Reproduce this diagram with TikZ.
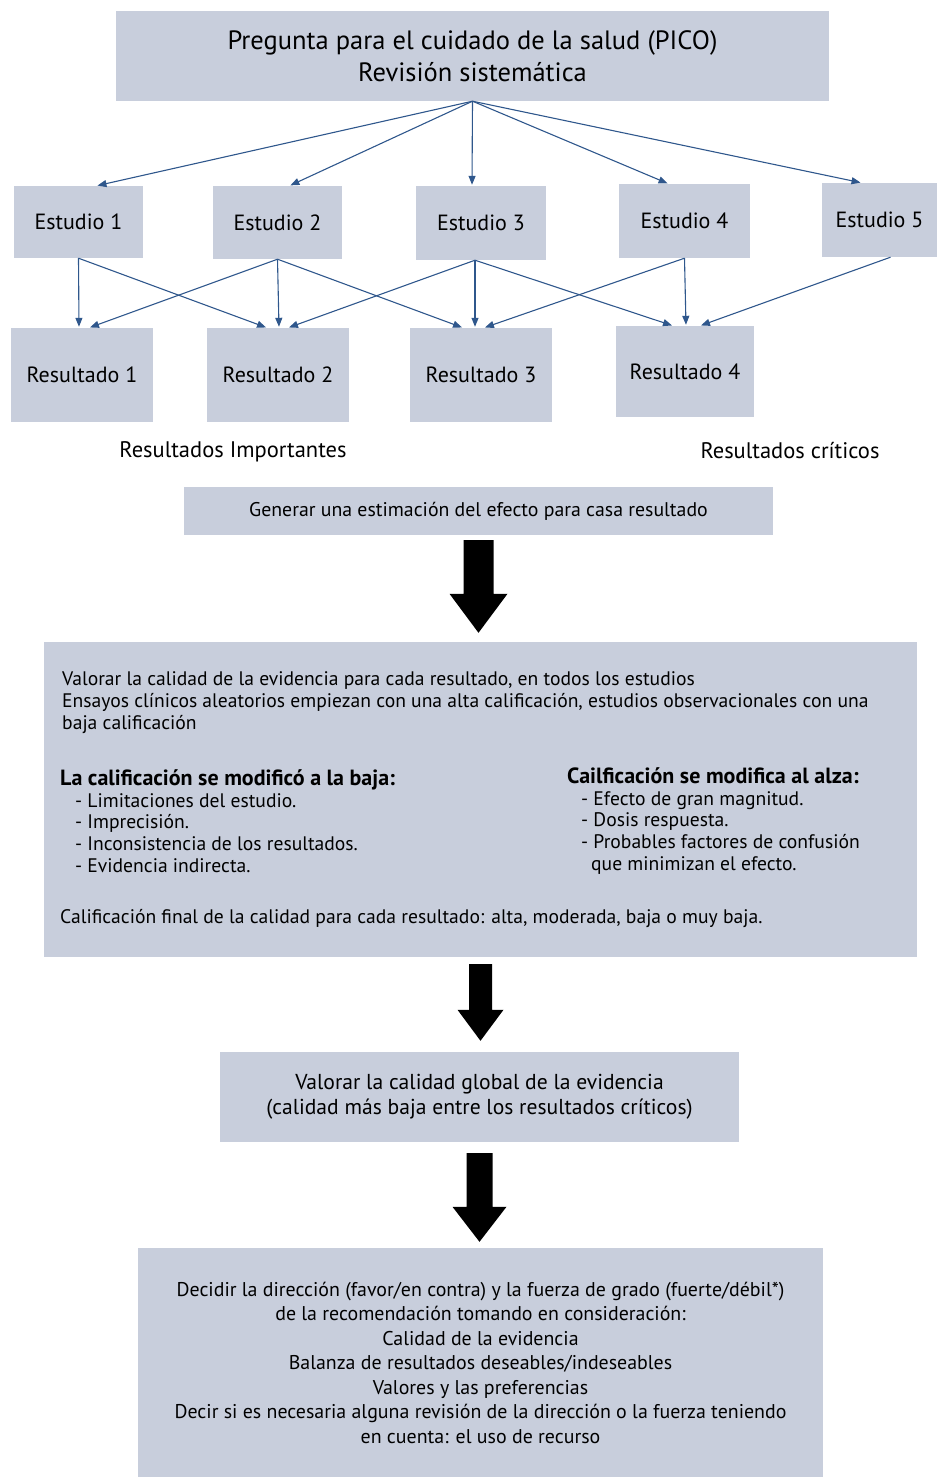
\documentclass[tikz,border=0pt]{standalone}
\usepackage{fontspec}
\setmainfont{PT Sans}
\usetikzlibrary{arrows.meta,calc}
\definecolor{boxgrey}{RGB}{200,206,220}
\definecolor{linkblue}{RGB}{47,87,140}
\newcommand{\fsz}[2]{\fontsize{#1}{#2}\selectfont}
% fat black arrow: top, tip, shaft half width, head half width, head length
\newcommand{\fatarrow}[5]{\fill[black] let \p1=(#1), \p2=(#2) in (\x1-#3,\y1) -- (\x1+#3,\y1) -- (\x1+#3,\y2+#5) -- (\x1+#4,\y2+#5) -- (\x1,\y2) -- (\x1-#4,\y2+#5) -- (\x1-#3,\y2+#5) -- cycle;}
\newcommand{\hdr}[1]{{\fontsize{22}{21.75}\selectfont\bfseries #1}}
\tikzset{
  gbox/.style={fill=boxgrey, inner sep=0pt, align=center},
  link/.style={draw=linkblue, line width=1.1pt, -{Triangle[width=7pt,length=9pt]}, shorten >=1pt},
}

\begin{document}
\begin{tikzpicture}[x=1pt, y=-1pt]
	%%%%% START %%%%%
	\useasboundingbox (0,0) rectangle (937,1477);

	\node[gbox, minimum width=713pt, minimum height=90pt, font=\fsz{26.5}{32}] (pico) at (472.5,56) {Pregunta para el cuidado de la salud (PICO)\\Revisión sistemática};

	% estudios
	\node[gbox, minimum width=129pt, minimum height=72pt, font=\fsz{22}{24}] (e1) at (78.5,222) {Estudio 1};
	\node[gbox, minimum width=129pt, minimum height=73pt, font=\fsz{22}{24}] (e2) at (277.5,222.5) {Estudio 2};
	\node[gbox, minimum width=130pt, minimum height=74pt, font=\fsz{22}{24}] (e3) at (481,223) {Estudio 3};
	\node[gbox, minimum width=131pt, minimum height=74pt, font=\fsz{22}{24}] (e4) at (684.5,221) {Estudio 4};
	\node[gbox, minimum width=115pt, minimum height=74pt, font=\fsz{22}{24}] (e5) at (879.5,220) {Estudio 5};

	% resultados
	\node[gbox, minimum width=142pt, minimum height=94pt, font=\fsz{22}{24}] (r1) at (82,375) {Resultado 1};
	\node[gbox, minimum width=142pt, minimum height=94pt, font=\fsz{22}{24}] (r2) at (278,375) {Resultado 2};
	\node[gbox, minimum width=142pt, minimum height=94pt, font=\fsz{22}{24}] (r3) at (481,375) {Resultado 3};
	\node[gbox, minimum width=138pt, minimum height=91pt, font=\fsz{22}{24}] (r4) at (685,371.5) {Resultado 4};

	\node[font=\fsz{22.5}{24}] (importantes) at (233,452) {Resultados Importantes};
	\node[font=\fsz{22.5}{24}] (criticos) at (790,451) {Resultados críticos};

	\draw[link] (pico.south) -- ([xshift=18pt]e1.north);
	\draw[link] (pico.south) -- ([xshift=12pt]e2.north);
	\draw[link] (pico.south) -- ([xshift=-9pt]e3.north);
	\draw[link] (pico.south) -- ([xshift=-16pt]e4.north);
	\draw[link] (pico.south) -- ([xshift=-18pt]e5.north);

	\draw[link] (e1.south) -- ([xshift=-3pt]r1.north);
	\draw[link] (e1.south) -- ([xshift=-11pt]r2.north);
	\draw[link] (e2.south) -- ([xshift=7pt]r1.north);
	\draw[link] (e2.south) -- ([xshift=1pt]r2.north);
	\draw[link] (e2.south) -- ([xshift=-18pt]r3.north);
	\draw[link] ([xshift=-6pt]e3.south) -- ([xshift=10pt]r2.north);
	\draw[link] ([xshift=-6pt]e3.south) -- ([xshift=-6pt]r3.north);
	\draw[link] ([xshift=-6pt]e3.south) -- ([xshift=-12pt]r4.north);
	\draw[link] (e4.south) -- ([xshift=3pt]r3.north);
	\draw[link] (e4.south) -- ([xshift=1pt]r4.north);
	\draw[link] ([xshift=11pt]e5.south) -- ([xshift=15pt]r4.north);

	\node[gbox, minimum width=589pt, minimum height=48pt, font=\fsz{19.8}{22}] (gen) at (478.5,511) {Generar una estimación del efecto para casa resultado};

	% calidad por resultado
	\node[gbox, minimum width=873pt, minimum height=315pt] (mid) at (480.5,799.5) {};
	\node[anchor=west, align=left, inner sep=0pt, font=\fsz{19.6}{22}] (valorar) at (62,703) {Valorar la calidad de la evidencia para cada resultado, en todos los estudios\\Ensayos clínicos aleatorios empiezan con una alta calificación, estudios observacionales con una\\baja calificación};
	\node[anchor=west, align=left, inner sep=0pt, font=\fsz{19.6}{21.75}] (baja) at (60,821) {\hdr{La calificación se modificó a la baja:}\\\hspace*{15pt}- Limitaciones del estudio.\\\hspace*{15pt}- Imprecisión.\\\hspace*{15pt}- Inconsistencia de los resultados.\\\hspace*{15pt}- Evidencia indirecta.};
	\node[anchor=west, align=left, inner sep=0pt, font=\fsz{19.6}{21.75}] (alza) at (567,821) {\hdr{Cailficación se modifica al alza:}\\\hspace*{14pt}- Efecto de gran magnitud.\\\hspace*{14pt}- Dosis respuesta.\\\hspace*{14pt}- Probables factores de confusión\\\hspace*{24pt}que minimizan el efecto.};
	\node[anchor=west, inner sep=0pt, font=\fsz{19.6}{22}] (final) at (60,919) {Calificación final de la calidad para cada resultado: alta, moderada, baja o muy baja.};

	\node[gbox, minimum width=519pt, minimum height=90pt, font=\fsz{21.6}{25}] (global) at (479.5,1097) {Valorar la calidad global de la evidencia\\(calidad más baja entre los resultados críticos)};

	\node[gbox, minimum width=685pt, minimum height=229pt, font=\fsz{19.9}{24.5}] (decidir) at (480.5,1362.5) {Decidir la dirección (favor/en contra) y la fuerza de grado (fuerte/débil*)\\de la recomendación tomando en consideración:\\Calidad de la evidencia\\Balanza de resultados deseables/indeseables\\Valores y las preferencias\\Decir si es necesaria alguna revisión de la dirección o la fuerza teniendo\\en cuenta: el uso de recurso};

	% big arrows
	\coordinate (a1top) at ($(gen.south)+(0,5)$);
	\coordinate (a1tip) at ($(mid.north)+(0,-9)$);
	\coordinate (a2top) at ($(mid.south)+(0,7)$);
	\coordinate (a2tip) at ($(global.north)+(0,-11)$);
	\coordinate (a3top) at ($(global.south)+(0,11)$);
	\coordinate (a3tip) at ($(decidir.north)+(0,-6)$);
	\fatarrow{a1top}{a1tip}{15}{29}{39}
	\fatarrow{a2top}{a2tip}{11.5}{23}{31}
	\fatarrow{a3top}{a3tip}{13}{27}{35}
	%%%%% END %%%%%
\end{tikzpicture}
\end{document}
